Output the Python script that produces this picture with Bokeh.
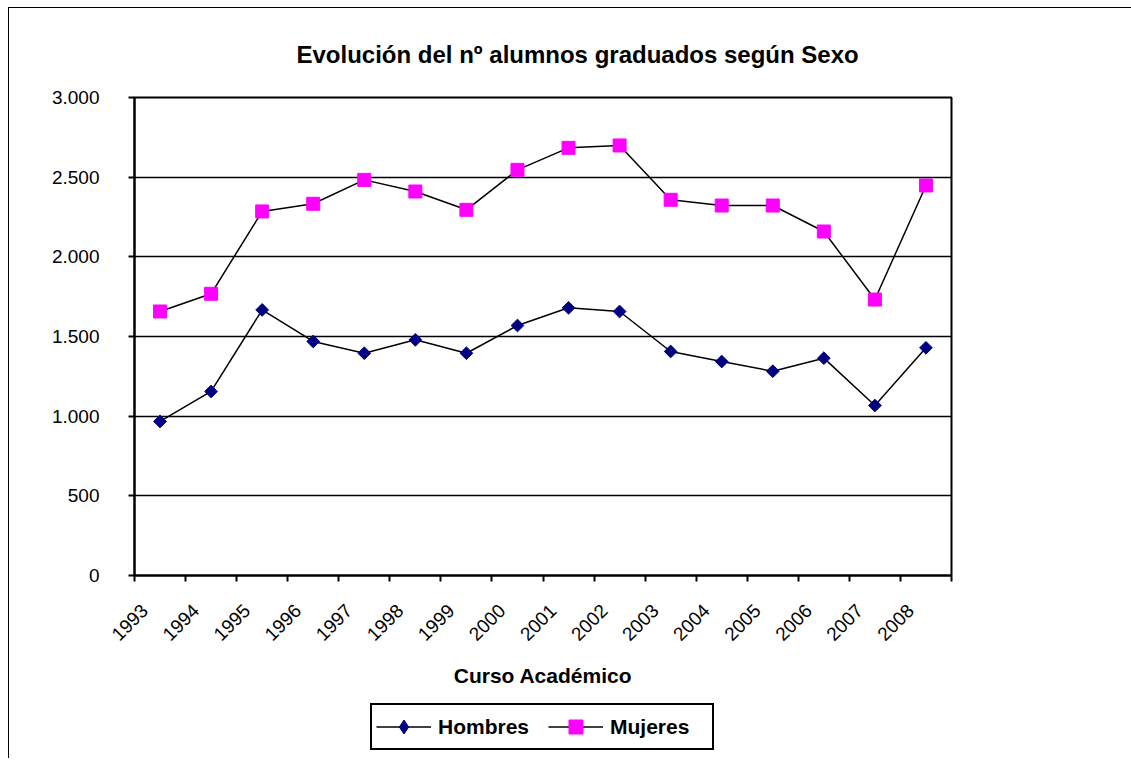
import math
from bokeh.plotting import figure
from bokeh.layouts import column
from bokeh.models import FixedTicker, Legend, LegendItem, Range1d
from bokeh.embed import file_html
from bokeh.resources import INLINE

# ---- data ----
years = ["1993", "1994", "1995", "1996", "1997", "1998", "1999", "2000",
         "2001", "2002", "2003", "2004", "2005", "2006", "2007", "2008"]
hombres = [967, 1155, 1667, 1469, 1395, 1479, 1395, 1569,
           1680, 1657, 1406, 1343, 1282, 1364, 1067, 1429]
mujeres = [1657, 1768, 2285, 2333, 2483, 2410, 2295, 2546,
           2684, 2699, 2358, 2322, 2322, 2159, 1732, 2448]
y_ticks = [0, 500, 1000, 1500, 2000, 2500, 3000]
y_tick_labels = ["0", "500", "1.000", "1.500", "2.000", "2.500", "3.000"]
title_text = "Evolución del nº alumnos graduados según Sexo"
x_title = "Curso Académico"
series_names = ["Hombres", "Mujeres"]

FONT = "Liberation Sans"
NAVY = "#000080"
MAGENTA = "#FF00FF"

xs = [int(y) for y in years]
bounds = [xs[0] - 0.5 + i for i in range(len(xs) + 1)]
label_pos = [x - 0.3 for x in xs]   # label anchor shift (layout only)

p = figure(width=1122, height=690, output_backend="svg", toolbar_location=None,
           x_range=Range1d(bounds[0], bounds[-1]), y_range=Range1d(0, 3000),
           min_border_left=125, min_border_right=180, min_border_top=89, min_border_bottom=123,
           background_fill_color="white", border_fill_color="white")

# title
p.title.text = title_text
p.title.align = "left"
p.title.offset = 162
p.title.standoff = 60
p.title.text_font = FONT
p.title.text_font_style = "bold"
p.title.text_font_size = "24px"
p.title.text_color = "black"

p.outline_line_color = "black"
p.outline_line_width = 2

# x axis
xa = p.xaxis[0]
xa.ticker = FixedTicker(ticks=label_pos, minor_ticks=bounds)
xa.major_label_overrides = {x: lab for x, lab in zip(label_pos, years)}
xa.major_label_orientation = math.pi / 4
xa.major_tick_line_color = None
xa.major_tick_out = 0
xa.major_tick_in = 0
xa.minor_tick_line_color = "black"
xa.minor_tick_line_width = 2
xa.minor_tick_out = 6
xa.minor_tick_in = 0
xa.axis_line_color = "black"
xa.axis_line_width = 2
xa.major_label_text_font = FONT
xa.major_label_text_font_size = "19px"
xa.major_label_text_color = "black"
xa.major_label_standoff = 26
xa.axis_label = x_title
xa.axis_label_text_font = FONT
xa.axis_label_text_font_style = "bold"
xa.axis_label_text_font_size = "21px"
xa.axis_label_text_color = "black"
xa.axis_label_standoff = 14

# y axis
ya = p.yaxis[0]
ya.ticker = FixedTicker(ticks=y_ticks, minor_ticks=[])
ya.major_label_overrides = {v: lab for v, lab in zip(y_ticks, y_tick_labels)}
ya.major_tick_line_color = "black"
ya.major_tick_line_width = 2
ya.major_tick_out = 6
ya.major_tick_in = 0
ya.minor_tick_line_color = None
ya.axis_line_color = "black"
ya.axis_line_width = 2
ya.major_label_text_font = FONT
ya.major_label_text_font_size = "19px"
ya.major_label_text_color = "black"
ya.major_label_standoff = 29

p.xgrid.visible = False
p.ygrid.ticker = FixedTicker(ticks=y_ticks)
p.ygrid.grid_line_color = "black"
p.ygrid.grid_line_width = 1.3

# series
p.line(xs, hombres, line_color="black", line_width=1.5)
p.scatter(xs, hombres, marker="square", angle=math.pi / 4, size=9,
          fill_color=NAVY, line_color=NAVY)
p.line(xs, mujeres, line_color="black", line_width=1.5)
p.scatter(xs, mujeres, marker="square", size=13,
          fill_color=MAGENTA, line_color=MAGENTA)

# ---- legend strip (below the chart) ----
# its renderers carry the same series; the strip's ranges keep them out of view,
# so only their legend glyphs show.
pl = figure(width=1122, height=60, output_backend="svg", toolbar_location=None,
            x_range=Range1d(0, 1), y_range=Range1d(0, 1),
            x_axis_location=None, y_axis_location=None,
            min_border_left=0, min_border_right=0, min_border_top=0, min_border_bottom=0,
            background_fill_color="white", border_fill_color="white")
pl.outline_line_color = None
pl.xgrid.visible = False
pl.ygrid.visible = False
llh = pl.line(xs, hombres, line_color="black", line_width=1.5)
lsh = pl.scatter(xs, hombres, marker="diamond", size=14, fill_color=NAVY, line_color=NAVY)
llm = pl.line(xs, mujeres, line_color="black", line_width=1.5)
lsm = pl.scatter(xs, mujeres, marker="square", size=13, fill_color=MAGENTA, line_color=MAGENTA)

legend = Legend(items=[LegendItem(label=series_names[0], renderers=[llh, lsh]),
                       LegendItem(label=series_names[1], renderers=[llm, lsm])],
                orientation="horizontal", location=(236, 8))
legend.border_line_color = "black"
legend.border_line_alpha = 1
legend.border_line_width = 2
legend.background_fill_color = "white"
legend.background_fill_alpha = 1
legend.label_text_font = FONT
legend.label_text_font_style = "bold"
legend.label_text_font_size = "21px"
legend.label_text_color = "black"
legend.glyph_width = 55
legend.glyph_height = 35
legend.label_height = 24
legend.label_width = 98
legend.label_standoff = 7
legend.spacing = 12
legend.padding = 4
legend.margin = 0
pl.add_layout(legend, "center")

layout = column(p, pl, spacing=0,
                styles={"margin-left": "8px", "margin-top": "7px",
                        "border-top": "1px solid black", "border-left": "1px solid black"})

open("out.html", "w").write(file_html(layout, INLINE))
